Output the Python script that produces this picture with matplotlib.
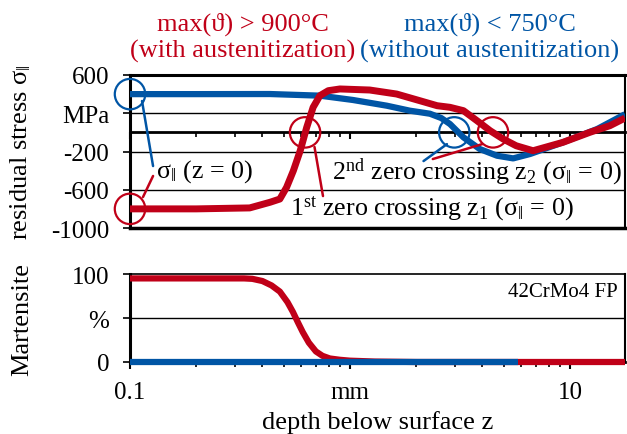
import numpy as np
import matplotlib
matplotlib.use("Agg")
import matplotlib.pyplot as plt
import matplotlib.transforms as mtransforms
from matplotlib.ticker import FixedLocator, LogLocator, NullFormatter

plt.rcParams['font.family'] = ['Liberation Serif', 'DejaVu Serif']
plt.rcParams['mathtext.fontset'] = 'custom'
plt.rcParams['mathtext.rm'] = 'Liberation Serif'
plt.rcParams['mathtext.it'] = 'Liberation Serif:italic'

RED = '#C00018'
BLUE = '#0055A5'

# ---- residual stress (MPa) vs depth (mm)
z_blue = [0.1, 0.2, 0.433, 0.73, 1.03, 1.47, 1.87, 2.31, 2.6, 2.85, 3.28, 3.89, 4.66, 5.52,
          6.59, 9.3, 13.3, 17.8]
s_blue = [400, 400, 401, 384, 339, 279, 227, 195, 150, 87, -52, -174, -244, -272,
          -226, -104, 35, 190]

z_red = [0.1, 0.2, 0.35, 0.433, 0.48, 0.515, 0.553, 0.594, 0.636, 0.68, 0.73, 0.797, 0.90,
         1.23, 1.63, 2.08, 2.49, 2.85, 3.28, 3.78, 4.34, 4.97, 5.7, 6.8, 9.3, 12.3, 15.2, 17.8]
s_red = [-800, -800, -790, -731, -697, -575, -401, -192, 53, 262, 384, 436, 454,
         443, 401, 331, 279, 262, 227, 122, 17, -69, -140, -192, -104, 0, 70, 150]

# ---- martensite (%) vs depth (mm)
z_mart_red = [0.1, 0.33, 0.36, 0.40, 0.44, 0.48, 0.52, 0.55, 0.58, 0.61, 0.65, 0.70, 0.75,
              0.81, 0.9, 1.0, 1.3, 2.0, 17.8]
m_mart_red = [95, 95, 94.5, 92, 87, 80, 68, 57, 45, 34, 22, 12, 7,
              4, 2.5, 1.5, 0.5, 0, 0]
z_mart_blue = [0.1, 5.8]
m_mart_blue = [0, 0]

# annotation points (circles)
circ_blue = [(0.1, 400), (2.98, 0)]
circ_red = [(0.1, -800), (0.625, 0), (4.47, 0)]

stress_ticks = [600, 200, -200, -600, -1000]
stress_ticklabels = ['600', 'MPa', '-200', '-600', '-1000']
mart_ticks = [100, 50, 0]
mart_ticklabels = ['100', '%', '0']
x_ticks = [0.1, 1, 10]
x_ticklabels = ['0.1', 'mm', '10']

W, H = 627, 435
fig = plt.figure(figsize=(W / 100, H / 100), dpi=100)


def fx(px):
    return px / W


def fy(py):
    return 1 - py / H


ax1 = fig.add_axes([fx(130), fy(229), fx(625) - fx(130), fy(76) - fy(229)])
ax2 = fig.add_axes([fx(130), fy(363), fx(625) - fx(130), fy(275) - fy(363)])

FS = 18
for ax in (ax1, ax2):
    ax.set_xscale('log')
    ax.set_xlim(0.1, 17.8)
    ax.xaxis.set_major_locator(FixedLocator(x_ticks))
    ax.xaxis.set_minor_locator(LogLocator(base=10, subs=np.arange(2, 10)))
    ax.xaxis.set_minor_formatter(NullFormatter())
    ax.tick_params(axis='x', which='major', direction='out', length=5, width=1.5, color='k')
    ax.tick_params(axis='x', which='minor', direction='out', length=3.5, width=1.2, color='k')
    ax.tick_params(axis='y', which='major', direction='out', length=5, width=1.2, pad=10, labelsize=FS)
    ax.spines['left'].set_linewidth(2.2)

# ---- top panel
ax1.set_ylim(-1000, 600)
ax1.set_yticks(stress_ticks)
ax1.set_yticklabels(stress_ticklabels)
for v in stress_ticks[1:-1]:
    ax1.axhline(v, color='k', lw=1.0, zorder=1)
ax1.spines['bottom'].set_position(('data', 0))
ax1.spines['bottom'].set_linewidth(2.0)
ax1.spines['top'].set_linewidth(2.2)
ax1.spines['right'].set_linewidth(1.5)
ax1.axhline(-1000, color='k', lw=2.5, zorder=3, clip_on=False)
ax1.tick_params(axis='x', which='both', labelbottom=False)

ax1.plot(z_blue, s_blue, color=BLUE, lw=4.5, solid_capstyle='butt', solid_joinstyle='round', zorder=4)
ax1.plot(z_red, s_red, color=RED, lw=5, solid_capstyle='butt', solid_joinstyle='round', zorder=5)

for (x, y) in circ_blue:
    ax1.scatter([x], [y], s=480, facecolors='none', edgecolors=BLUE, linewidths=1.6, zorder=6, clip_on=False)
for (x, y) in circ_red:
    ax1.scatter([x], [y], s=480, facecolors='none', edgecolors=RED, linewidths=1.6, zorder=6, clip_on=False)


def leader(ax, p0, p1, color):
    ax.annotate('', xy=p0, xytext=p1,
                arrowprops=dict(arrowstyle='-', color=color, lw=1.8, shrinkA=0, shrinkB=0), zorder=6)


leader(ax1, (0.1134, 328), (0.1273, -352), BLUE)
leader(ax1, (0.1146, -676), (0.1273, -456), RED)
leader(ax1, (0.69, -153), (0.754, -666), RED)
leader(ax1, (2.76, -123), (2.16, -300), BLUE)
leader(ax1, (3.99, -123), (2.38, -279), RED)

AFS = 18.7
sig = r'$\mathrm{\sigma_{\|}}$'
ax1.text(0.131, -404, sig + ' (z = 0)', fontsize=AFS, va='center', ha='left', zorder=7)
ax1.text(0.83, -404, r'2$^{\mathrm{nd}}$ zero crossing z$_{\mathrm{2}}$ (' + sig + ' = 0)',
         fontsize=AFS, va='center', ha='left', zorder=7)
ax1.text(0.533, -790, r'1$^{\mathrm{st}}$ zero crossing z$_{\mathrm{1}}$ (' + sig + ' = 0)',
         fontsize=AFS, va='center', ha='left', zorder=7)

ax1.set_ylabel(r'residual stress $\mathrm{\sigma_{\|}}$', fontsize=19)

# ---- bottom panel
ax2.set_ylim(0, 100)
ax2.set_yticks(mart_ticks)
ax2.set_yticklabels(mart_ticklabels)
ax2.axhline(50, color='k', lw=1.0, zorder=1)
ax2.spines['bottom'].set_linewidth(2.0)
ax2.spines['top'].set_linewidth(1.2)
ax2.spines['right'].set_linewidth(1.5)
ax2.set_xticklabels(x_ticklabels)
ax2.tick_params(axis='x', which='major', labelsize=FS, pad=9)

ax2.plot(z_mart_red, m_mart_red, color=RED, lw=4.5, solid_capstyle='butt', solid_joinstyle='round',
         zorder=4, clip_on=False)
ax2.plot(z_mart_blue, m_mart_blue, color=BLUE, lw=4.5, solid_capstyle='butt', zorder=5, clip_on=False)
ax2.text(0.985, 0.8, '42CrMo4 FP', transform=ax2.transAxes, fontsize=15, ha='right', va='center')
ax2.set_ylabel('Martensite', fontsize=19)
ax2.set_xlabel('depth below surface z', fontsize=19, labelpad=5)

# y labels at the same x position as in the reference
for ax in (ax1, ax2):
    ax.yaxis.set_label_coords(fx(33), 0.5,
                              transform=mtransforms.blended_transform_factory(fig.transFigure, ax.transAxes))

# ---- titles
fig.text(fx(243), fy(24), 'max(ϑ) > 900°C', color=RED, fontsize=19, ha='center', va='center')
fig.text(fx(243), fy(51), '(with austenitization)', color=RED, fontsize=19, ha='center', va='center')
fig.text(fx(490), fy(24), 'max(ϑ) < 750°C', color=BLUE, fontsize=19, ha='center', va='center')
fig.text(fx(490), fy(51), '(without austenitization)', color=BLUE, fontsize=19, ha='center', va='center')

fig.savefig('out.png', dpi=100)
